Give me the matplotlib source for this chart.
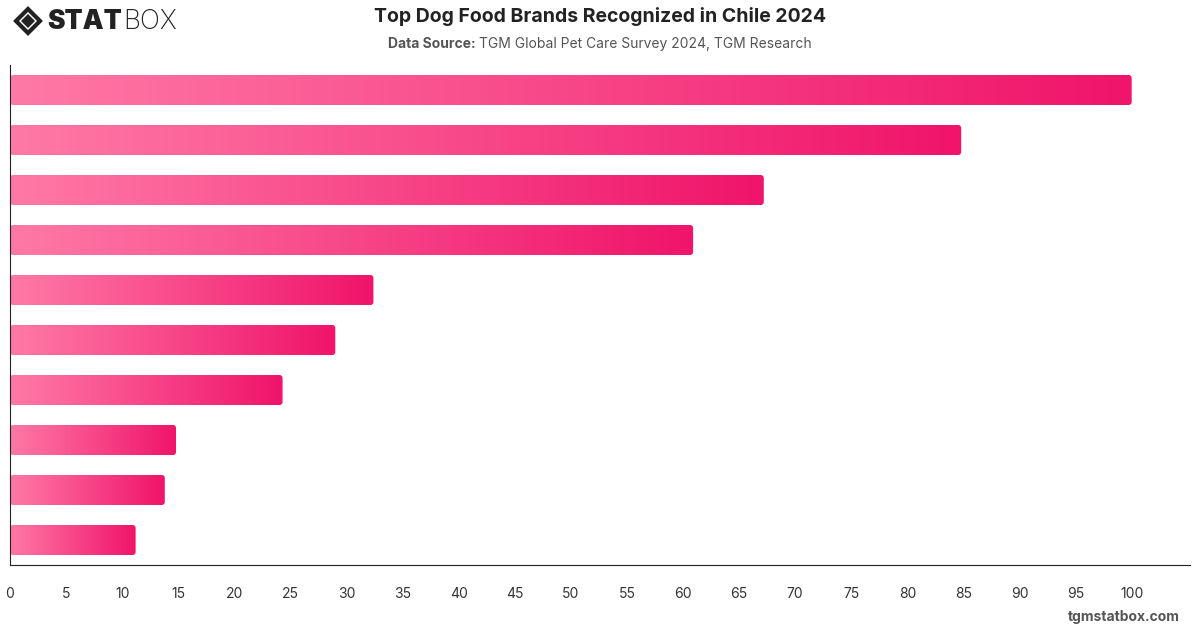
import numpy as np
import matplotlib.pyplot as plt
from matplotlib.patches import FancyBboxPatch, Polygon
from matplotlib.colors import LinearSegmentedColormap

plt.rcParams['font.family'] = ['Inter', 'DejaVu Sans']

# brand names are not shown on the chart
brands = ["Brand 1", "Brand 2", "Brand 3", "Brand 4", "Brand 5",
          "Brand 6", "Brand 7", "Brand 8", "Brand 9", "Brand 10"]
values = [100, 84.8, 67.2, 60.9, 32.4, 29.0, 24.3, 14.8, 13.8, 11.2]
xticks = list(range(0, 101, 5))

cmap = LinearSegmentedColormap.from_list("pinks", ["#ff79a6", "#f0146a"])

fig = plt.figure(figsize=(12, 6.28), dpi=100)
ax = fig.add_axes([10 / 1200, 1 - 565 / 628, 1180 / 1200, 500 / 628])

xmax = 105.2
ypos = np.arange(len(brands))
# data units per pixel, for rounded bar ends
dx = xmax / 1180
dy = 10 / 500
grad = np.linspace(0, 1, 256).reshape(1, -1)
for y, v in zip(ypos, values):
    patch = FancyBboxPatch((0, y - 0.3), v, 0.6,
                           boxstyle="round,pad=0,rounding_size=%f" % (3 * dx),
                           mutation_aspect=dy / dx,
                           facecolor="none", edgecolor="none")
    ax.add_patch(patch)
    im = ax.imshow(grad, cmap=cmap, aspect="auto",
                   extent=(0, v, y + 0.3, y - 0.3), zorder=2)
    im.set_clip_path(patch)
ax.set_ylim(len(brands) - 0.5, -0.5)
ax.set_xlim(0, xmax)

ax.set_yticks([])
ax.set_xticks(xticks)
ax.set_xticklabels([str(t) for t in xticks], fontsize=10, color="#333333")
ax.tick_params(axis="x", length=0, pad=16)
for s in ["top", "right"]:
    ax.spines[s].set_visible(False)
ax.spines["left"].set_color("#222222")
ax.spines["bottom"].set_color("#222222")

fig.text(0.5, 1 - 17 / 628, "Top Dog Food Brands Recognized in Chile 2024",
         ha="center", va="center", fontsize=14, fontweight="bold", color="#222222")

# subtitle: bold label + normal text, centred together
renderer = fig.canvas.get_renderer()
a = fig.text(0, 1 - 44 / 628, "Data Source: ", ha="left", va="center",
             fontsize=10, fontweight="bold", color="#555555")
b = fig.text(0, 1 - 44 / 628, "TGM Global Pet Care Survey 2024, TGM Research",
             ha="left", va="center", fontsize=10, color="#555555")
wa = a.get_window_extent(renderer).width
wb = b.get_window_extent(renderer).width
x0 = (1200 - wa - wb) / 2
a.set_x(x0 / 1200)
b.set_x((x0 + wa) / 1200)

fig.text(1180 / 1200, 1 - 617 / 628, "tgmstatbox.com", ha="right", va="center",
         fontsize=10, fontweight="bold", color="#555555")

# logo
lx = fig.add_axes([0, 1 - 42 / 628, 200 / 1200, 42 / 628])
lx.set_xlim(0, 200)
lx.set_ylim(42, 0)
lx.axis("off")
lx.add_patch(Polygon([[16, 21], [28, 9], [40, 21], [28, 33]], closed=True,
                     facecolor="none", edgecolor="#222222", lw=3))
lx.add_patch(Polygon([[21, 21], [28, 14], [35, 21], [28, 28]], closed=True,
                     facecolor="#222222", edgecolor="none"))
s1 = lx.text(47, 22, "STAT", fontsize=19, fontweight="black", color="#222222",
             va="center", ha="left")
w1 = s1.get_window_extent(renderer).width
lx.text(47 + w1 + 1, 22, "BOX", fontsize=19, fontweight="light", color="#222222",
        va="center", ha="left")

fig.savefig("out.png", dpi=100, facecolor="white")
